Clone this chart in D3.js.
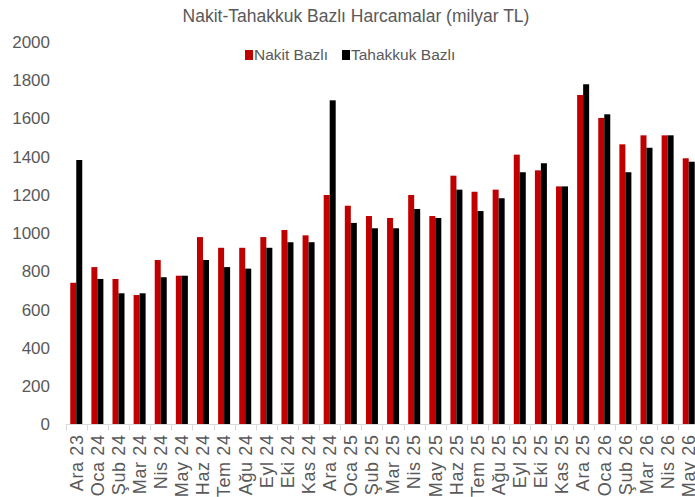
<!DOCTYPE html>
<html>
<head>
<meta charset="utf-8">
<script src="https://cdn.jsdelivr.net/npm/d3@7"></script>
<style>
  body { margin: 0; background: #fff; }
  text { font-family: "Liberation Sans Narrow", "Liberation Sans", Arial, sans-serif; fill: #595959; }
</style>
</head>
<body>
<svg width="695" height="497"></svg>
<script>
// months shown on the x axis
const months = ["Ara 23", "Oca 24", "Şub 24", "Mar 24", "Nis 24", "May 24", "Haz 24", "Tem 24", "Ağu 24", "Eyl 24",
  "Eki 24", "Kas 24", "Ara 24", "Oca 25", "Şub 25", "Mar 25", "Nis 25", "May 25", "Haz 25", "Tem 25",
  "Ağu 25", "Eyl 25", "Eki 25", "Kas 25", "Ara 25", "Oca 26", "Şub 26", "Mar 26", "Nis 26", "May 26"];

// series values (milyar TL)
const nakit = [741, 823, 761, 677, 860, 778, 980, 924, 924, 980,
  1017, 989, 1200, 1144, 1090, 1080, 1200, 1090, 1301, 1217,
  1228, 1411, 1329, 1245, 1723, 1603, 1465, 1512, 1512, 1392];
const tahakkuk = [1383, 761, 686, 686, 770, 778, 860, 823, 815, 924,
  953, 953, 1695, 1054, 1026, 1026, 1127, 1080, 1228, 1116,
  1183, 1319, 1366, 1245, 1779, 1622, 1319, 1447, 1512, 1374];

const seriesNames = ["Nakit Bazlı", "Tahakkuk Bazlı"];
const colors = ["#C00000", "#000000"];
const yTicks = [0, 200, 400, 600, 800, 1000, 1200, 1400, 1600, 1800, 2000];

const svg = d3.select("svg");

const x = d3.scaleBand().domain(months).range([65.7, 699.3]);
const xSub = d3.scaleBand().domain(seriesNames).range([0, x.bandwidth()]).paddingOuter(0.76);
const y = d3.scaleLinear().domain([0, 2000]).range([424.5, 42]);

// title
svg.append("text")
  .attr("x", 356).attr("y", 22)
  .attr("text-anchor", "middle")
  .style("font-size", "17.5px")
  .text("Nakit-Tahakkuk Bazlı Harcamalar (milyar TL)");

// y tick labels (no axis line)
svg.append("g")
  .selectAll("text")
  .data(yTicks)
  .enter().append("text")
    .attr("x", 50)
    .attr("y", d => y(d))
    .attr("dy", "0.35em")
    .attr("text-anchor", "end")
    .style("font-size", "17px")
    .text(d => d);

// bars
const groups = svg.append("g")
  .selectAll("g")
  .data(months)
  .enter().append("g")
    .attr("transform", d => `translate(${x(d)},0)`);

groups.selectAll("rect")
  .data((d, i) => [nakit[i], tahakkuk[i]])
  .enter().append("rect")
    .attr("x", (d, j) => xSub(seriesNames[j]))
    .attr("width", xSub.bandwidth())
    .attr("y", d => y(d))
    .attr("height", d => y(0) - y(d))
    .attr("fill", (d, j) => colors[j]);

// x axis
const xAxis = svg.append("g")
  .attr("transform", `translate(0,${y(0)})`);

xAxis.append("line")
  .attr("x1", x.range()[0]).attr("x2", x.range()[1])
  .attr("stroke", "#d9d9d9");

xAxis.selectAll(".tick")
  .data(months)
  .enter().append("line")
    .attr("x1", d => Math.round(x(d)) + 0.5)
    .attr("x2", d => Math.round(x(d)) + 0.5)
    .attr("y1", 0).attr("y2", 6)
    .attr("stroke", "#d9d9d9");

xAxis.selectAll(".lbl")
  .data(months)
  .enter().append("text")
    .attr("transform", d => `translate(${x(d) + x.bandwidth() / 2},10) rotate(-90)`)
    .attr("dy", "0.35em")
    .attr("text-anchor", "end")
    .style("font-size", "18px")
    .style("letter-spacing", "0.6px")
    .text(d => d);

// legend
const legend = svg.append("g");
const legendX = [245, 342];
seriesNames.forEach((name, i) => {
  legend.append("rect")
    .attr("x", legendX[i]).attr("y", 50)
    .attr("width", 8).attr("height", 10)
    .attr("fill", colors[i]);
  legend.append("text")
    .attr("x", legendX[i] + 9).attr("y", 55)
    .attr("dy", "0.35em")
    .style("font-size", "15.5px")
    .text(name);
});
</script>
</body>
</html>
